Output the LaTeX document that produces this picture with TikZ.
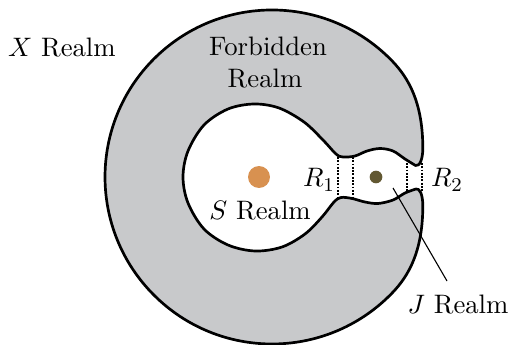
\documentclass[tikz,border=0pt]{standalone}
\usetikzlibrary{calc}
\definecolor{regiongray}{RGB}{200,201,203}
\definecolor{sdotcol}{RGB}{216,145,80}
\definecolor{jdotcol}{RGB}{98,88,50}
\begin{document}
\begin{tikzpicture}[x=0.41pt,y=-0.41pt,
  region/.style={fill=regiongray, draw=black, line width=1.1pt, line join=round},
  gate/.style={line width=0.5pt, dash pattern=on 0.75pt off 0.6pt},
  lbl/.style={inner sep=0pt, outer sep=0pt, font=\fontsize{10.95}{13}\selectfont},
  dotS/.style={circle, fill=sdotcol, inner sep=0pt, minimum size=9pt},
  dotJ/.style={circle, fill=jdotcol, inner sep=0pt, minimum size=5.2pt},
  leader/.style={line width=0.45pt}]
\useasboundingbox (0,0) rectangle (508,345);
% forbidden realm (C-shaped region)
\path[region] (415.5,165.5) .. controls (419.5,166.5) and (422.8,160) .. (422.8,148)
  .. controls (422.8,96.7) and (404.2,73) .. (390.1,58.9)
  arc[start angle=-45, end angle=-315, radius=167]
  .. controls (404.2,281) and (422.8,257.3) .. (422.8,206)
  .. controls (422.8,194) and (419.5,188) .. (416,189)
  -- plot[smooth, tension=0.55] coordinates {
    (416,189) (405,193) (393,200) (378,203.5) (365,202) (352,198.5) (341,197.5)
    (334,202) (322,217) (305,234) (282,247) (255,251) (228,245) (204,229)
    (188,203) (183,177) (188,151) (204,125) (228,109) (254,104) (279,108)
    (304,122) (323,140) (336,154) (343,157) (355,156) (367,151) (380,148.5)
    (393,151) (405,159) (415.5,165.5)}
  -- cycle;
% gates R1 and R2
\draw[gate] (338,157) -- (338,197);
\draw[gate] (353,157) -- (353,198);
\draw[gate] (407,163) -- (407,191);
\draw[gate] (422,163) -- (422,191);
% masses
\node[dotS] (sdot) at (259,177) {};
\node[dotJ] (jdot) at (376,177) {};
% labels
\node[lbl, anchor=base west] (xlab) at (8,57) {$X$ Realm};
\node[lbl, anchor=base] (forb1) at (268,56) {Forbidden};
\node[lbl, anchor=base] (forb2) at (265,88) {Realm};
\node[lbl, anchor=base] (slab) at (260,219) {$S$ Realm};
\node[lbl, anchor=base] (r1lab) at (319,187) {$R_1$};
\node[lbl, anchor=base] (r2lab) at (447,187) {$R_2$};
\node[lbl, anchor=base] (jlab) at (458,313) {$J$ Realm};
% leader
\coordinate (jpt) at (393,188);
\coordinate (jend) at (447,281);
\draw[leader] (jpt) -- (jend);
\end{tikzpicture}
\end{document}
